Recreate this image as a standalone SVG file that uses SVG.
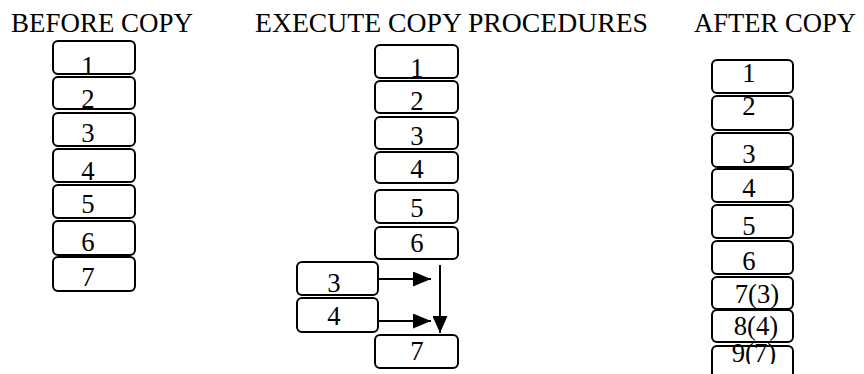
<svg xmlns="http://www.w3.org/2000/svg" width="864" height="374" viewBox="0 0 864 374">
  <style>
    .box { fill: #ffffff; stroke: #000000; stroke-width: 2; }
    .lbl { font-family: "Liberation Serif", "Times New Roman", serif; font-size: 26.7px; fill: #000000; text-anchor: middle; }
    .ttl { font-family: "Liberation Serif", "Times New Roman", serif; font-size: 26.7px; fill: #000000; }
    .wire { stroke: #000000; stroke-width: 2; fill: none; }
  </style>
  <defs>
    <marker id="headV" viewBox="0 0 10 10" refX="10" refY="5" markerWidth="17" markerHeight="15" markerUnits="userSpaceOnUse" orient="auto" preserveAspectRatio="none">
      <path d="M0,0 L10,5 L0,10 Z" fill="#000000"/>
    </marker>
    <marker id="headH" viewBox="0 0 10 10" refX="10" refY="5" markerWidth="18" markerHeight="15" markerUnits="userSpaceOnUse" orient="auto" preserveAspectRatio="none">
      <path d="M0,0 L10,5 L0,10 Z" fill="#000000"/>
    </marker>
    <clipPath id="pageClip">
      <rect x="0" y="0" width="864" height="364"/>
    </clipPath>
  </defs>

  <!-- column titles -->
  <text class="ttl" x="11" y="32" textLength="182" lengthAdjust="spacingAndGlyphs">BEFORE COPY</text>
  <text class="ttl" x="255" y="32" textLength="393" lengthAdjust="spacingAndGlyphs">EXECUTE COPY PROCEDURES</text>
  <text class="ttl" x="694" y="32" textLength="162" lengthAdjust="spacingAndGlyphs">AFTER COPY</text>

  <!-- before copy -->
  <g id="before-1"><rect class="box" x="53" y="41" width="82" height="33" rx="5"/><text class="lbl" x="88" y="75">1</text></g>
  <g id="before-2"><rect class="box" x="53" y="77" width="82" height="32" rx="5"/><text class="lbl" x="88" y="108">2</text></g>
  <g id="before-3"><rect class="box" x="53" y="113" width="82" height="33" rx="5"/><text class="lbl" x="88" y="142">3</text></g>
  <g id="before-4"><rect class="box" x="53" y="149" width="82" height="33" rx="5"/><text class="lbl" x="88" y="180">4</text></g>
  <g id="before-5"><rect class="box" x="53" y="185" width="82" height="33" rx="5"/><text class="lbl" x="88" y="213">5</text></g>
  <g id="before-6"><rect class="box" x="53" y="221" width="82" height="34" rx="5"/><text class="lbl" x="88" y="251">6</text></g>
  <g id="before-7"><rect class="box" x="53" y="257" width="82" height="34" rx="5"/><text class="lbl" x="88" y="286">7</text></g>

  <!-- execute copy procedures -->
  <g id="exec-1"><rect class="box" x="375" y="45" width="83" height="33" rx="5"/><text class="lbl" x="417" y="77">1</text></g>
  <g id="exec-2"><rect class="box" x="375" y="81" width="83" height="32" rx="5"/><text class="lbl" x="417" y="110">2</text></g>
  <g id="exec-3"><rect class="box" x="375" y="117" width="83" height="32" rx="5"/><text class="lbl" x="417" y="145">3</text></g>
  <g id="exec-4"><rect class="box" x="375" y="152" width="83" height="31" rx="5"/><text class="lbl" x="417" y="178">4</text></g>
  <g id="exec-5"><rect class="box" x="375" y="190" width="83" height="33" rx="5"/><text class="lbl" x="417" y="217">5</text></g>
  <g id="exec-6"><rect class="box" x="375" y="227" width="83" height="32" rx="5"/><text class="lbl" x="417" y="252">6</text></g>
  <g id="exec-copy-3"><rect class="box" x="297" y="262" width="81" height="33" rx="5"/><text class="lbl" x="334" y="292">3</text></g>
  <g id="exec-copy-4"><rect class="box" x="297" y="298" width="81" height="34" rx="5"/><text class="lbl" x="334" y="325">4</text></g>
  <g id="exec-7"><rect class="box" x="375" y="335" width="83" height="33" rx="5"/><text class="lbl" x="417" y="360">7</text></g>

  <!-- copy connectors -->
  <g id="connectors">
    <line class="wire" x1="379" y1="279" x2="431" y2="279" marker-end="url(#headH)"/>
    <line class="wire" x1="379" y1="321" x2="431" y2="321" marker-end="url(#headH)"/>
    <line class="wire" x1="440" y1="265" x2="440" y2="333" marker-end="url(#headV)"/>
  </g>

  <!-- after copy -->
  <g id="after-1"><rect class="box" x="712" y="60" width="81" height="33" rx="5"/><text class="lbl" x="749" y="82">1</text></g>
  <g id="after-2"><rect class="box" x="712" y="96" width="81" height="34" rx="5"/><text class="lbl" x="749" y="115">2</text></g>
  <g id="after-3"><rect class="box" x="712" y="133" width="81" height="34" rx="5"/><text class="lbl" x="749" y="163">3</text></g>
  <g id="after-4"><rect class="box" x="712" y="169" width="81" height="33" rx="5"/><text class="lbl" x="749" y="197">4</text></g>
  <g id="after-5"><rect class="box" x="712" y="205" width="81" height="33" rx="5"/><text class="lbl" x="749" y="235">5</text></g>
  <g id="after-6"><rect class="box" x="712" y="241" width="81" height="33" rx="5"/><text class="lbl" x="749" y="270">6</text></g>
  <g id="after-7"><rect class="box" x="712" y="277" width="81" height="32" rx="5"/><text class="lbl" x="757" y="303">7(3)</text></g>
  <g id="after-8"><rect class="box" x="712" y="310" width="81" height="32" rx="5"/><text class="lbl" x="756" y="335">8(4)</text></g>
  <g id="after-9"><rect class="box" x="712" y="346" width="81" height="40" rx="5"/><text class="lbl" x="754" y="362" clip-path="url(#pageClip)">9(7)</text></g>
</svg>
